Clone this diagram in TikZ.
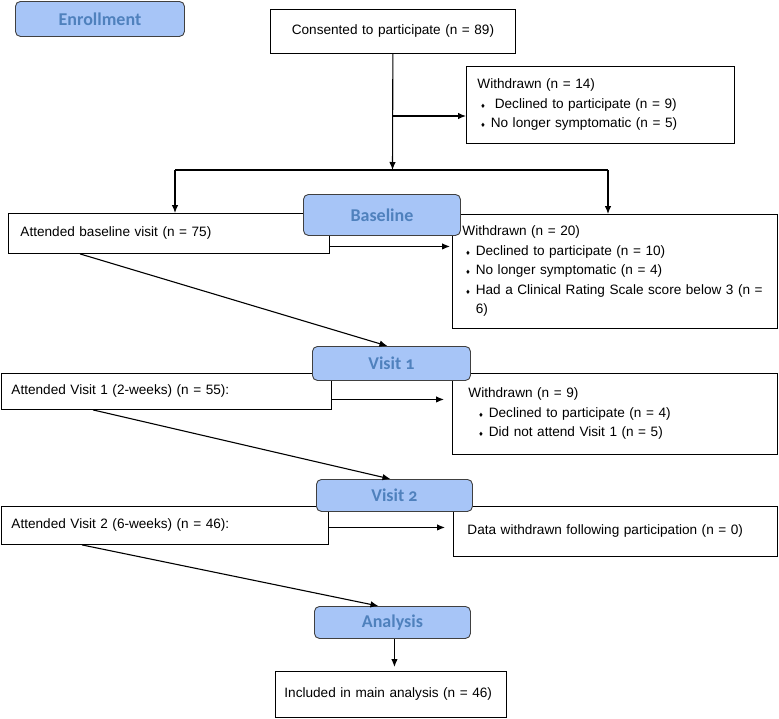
\documentclass[tikz,border=0pt]{standalone}
\usepackage{fontspec}
\setmainfont{Liberation Sans}
\newfontfamily\hdrfont[Numbers=OldStyle]{Carlito}
\newfontfamily\symfont{DejaVu Sans}
\usetikzlibrary{arrows.meta,positioning}
\definecolor{hdrfill}{RGB}{167,197,247}
\definecolor{hdrtext}{RGB}{79,129,189}
\newcommand{\bul}{{\symfont\fontsize{6}{6}\selectfont ♦}\hspace{5pt}}

\begin{document}
\begin{tikzpicture}[x=1pt,y=-1pt,->,>={Latex[length=8pt,width=6.5pt]},line width=1.1pt]
	  \tikzstyle{box}=[draw,line width=0.9pt,anchor=north west,inner ysep=0pt,align=left,font=\fontsize{13.6}{19.5}\selectfont]
	  \tikzstyle{hdr}=[draw=black!75,line width=0.9pt,fill=hdrfill,rounded corners=5pt,anchor=north west,inner sep=0pt,text=hdrtext,font=\hdrfont\bfseries\fontsize{18}{18}\selectfont]

	  \useasboundingbox (0,0) rectangle (779,718);

	  \node[box,minimum height=44pt,text width=245pt,align=center,inner xsep=0pt] (consent) at (270,9) {Consented to participate (n = 89)};
	  \node[box,minimum height=77pt,text width=246pt,inner xsep=11pt] (wd-14) at (466,66)
	       {Withdrawn (n = 14)\\ \hspace{3pt}\bul\hspace{4pt}Declined to participate (n = 9)\\ \hspace{3pt}\bul No longer symptomatic (n = 5)};
	  \node[box,minimum height=40pt,text width=297pt,inner xsep=12pt] (base) at (8,213) {Attended baseline visit (n = 75)};
	  \node[box,minimum height=114pt,text width=305pt,inner xsep=10pt] (wd-20) at (452,214)
	       {Withdrawn (n = 20)\\ \hspace{3pt}\bul Declined to participate (n = 10)\\ \hspace{3pt}\bul No longer symptomatic (n = 4)\\
	        \hspace{3pt}\bul Had a Clinical Rating Scale score below 3 (n =\\ \hspace{3pt}\hphantom{\bul}6)};
	  \node[box,minimum height=36pt,text width=310pt,inner xsep=10pt] (v-1) at (1,373) {Attended Visit 1 (2-weeks) (n = 55):};
	  \node[box,minimum height=81pt,text width=293pt,inner xsep=16pt] (wd-9) at (452,373)
	       {Withdrawn (n = 9)\\ \hspace{10pt}\bul Declined to participate (n = 4)\\ \hspace{10pt}\bul Did not attend Visit 1 (n = 5)};
	  \node[box,minimum height=38pt,text width=307pt,inner xsep=10pt] (v-2) at (1,506) {Attended Visit 2 (6-weeks) (n = 46):};
	  \node[box,minimum height=50pt,text width=296pt,inner xsep=14pt] (dat) at (453,506) {Data withdrawn following participation (n = 0)};
	  \node[box,minimum height=46pt,text width=213pt,inner xsep=9pt] (inc) at (275,671) {Included in main analysis (n = 46)};

	  % stage headers
	  \node[hdr,minimum width=169pt,minimum height=35pt] (enrol) at (15,1) {Enrollment};
	  \node[hdr,minimum width=157pt,minimum height=41pt] (base-h) at (303,194) {Baseline};
	  \node[hdr,minimum width=158pt,minimum height=34pt] (v-1h) at (312,346) {Visit 1};
	  \node[hdr,minimum width=156pt,minimum height=32pt] (v-2h) at (316,479) {Visit 2};
	  \node[hdr,minimum width=156pt,minimum height=32pt] (an-h) at (314,606) {Analysis};

	  \coordinate (split) at (392.5,170);
	  \coordinate (lft) at (175,170);
	  \coordinate (rgt) at (608,170);
	  \coordinate (br) at (392.5,116);
	  \coordinate (b1) at ([yshift=-13pt]base.east);
	  \coordinate (c1) at ([yshift=-8pt]v-1.east);
	  \coordinate (c2) at ([yshift=-2pt]v-2.east);

	  \draw[-] (lft) -- (rgt);
	  \path (consent) edge (split)
	  (br) edge (br -| wd-14.west)
	  (lft) edge (lft |- base.north)
	  (rgt) edge (rgt |- wd-20.north)
	  (b1) edge[shorten >=2pt] (b1 -| wd-20.west)
	  ([xshift=72pt]base.south west) edge ([xshift=-4pt]v-1h.north)
	  (c1) edge[shorten >=8pt] (c1 -| wd-9.west)
	  ([xshift=92pt]v-1.south west) edge ([xshift=-4pt]v-2h.north)
	  (c2) edge[shorten >=8pt] (c2 -| dat.west)
	  ([xshift=81pt]v-2.south west) edge ([xshift=-14pt]an-h.north)
	  ([xshift=2pt]an-h.south) edge[shorten >=4pt] ([xshift=2pt]an-h.south |- inc.north);
\end{tikzpicture}
\end{document}
